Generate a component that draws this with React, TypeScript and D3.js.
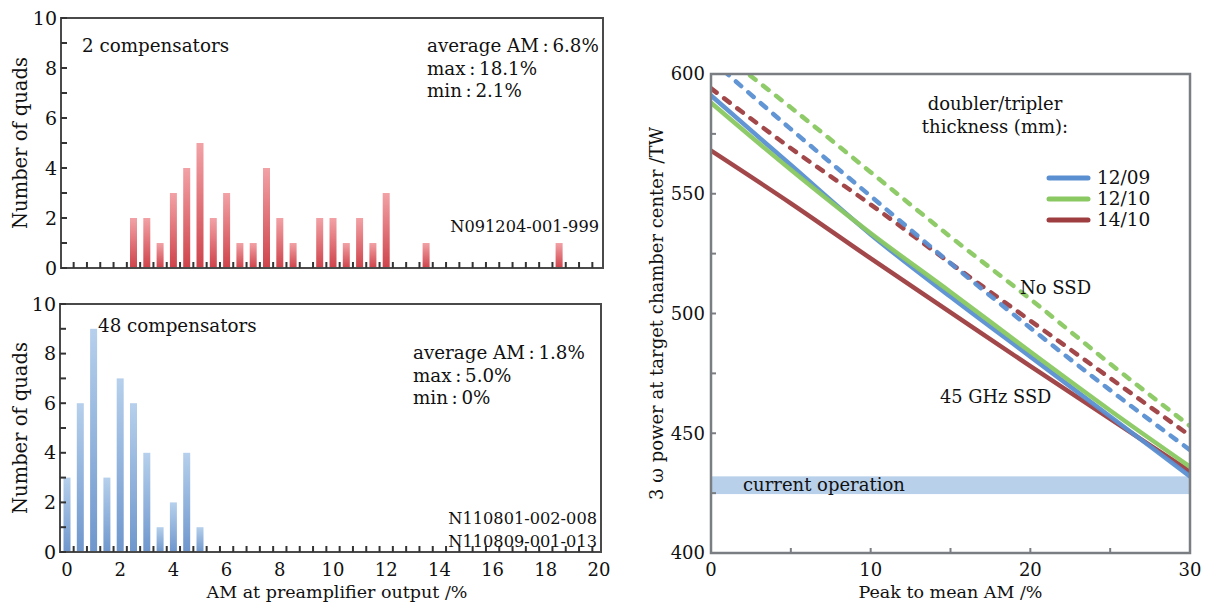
import React from "react";
import * as d3 from "d3";

// ---------- data ----------
const topBins = [2.5, 3, 3.5, 4, 4.5, 5, 5.5, 6, 6.5, 7, 7.5, 8, 8.5, 9.5, 10, 10.5, 11, 11.5, 12, 13.5, 18.5];
const topCounts = [2, 2, 1, 3, 4, 5, 2, 3, 1, 1, 4, 2, 1, 2, 2, 1, 2, 1, 3, 1, 1];
const bottomBins = [0, 0.5, 1, 1.5, 2, 2.5, 3, 3.5, 4, 4.5, 5];
const bottomCounts = [3, 6, 9, 3, 7, 6, 4, 1, 2, 4, 1];
const histXTicks = [0, 2, 4, 6, 8, 10, 12, 14, 16, 18, 20];
const histYTicks = [0, 2, 4, 6, 8, 10];
const topStats = ["average AM\u2009:\u20096.8%", "max\u2009:\u200918.1%", "min\u2009:\u20092.1%"];
const bottomStats = ["average AM\u2009:\u20091.8%", "max\u2009:\u20095.0%", "min\u2009:\u20090%"];
const topShots = ["N091204-001-999"];
const bottomShots = ["N110801-002-008", "N110809-001-013"];

const amX = [0, 5, 10, 15, 20, 25, 30];
const blueSolid = [591, 562, 533, 507, 482, 457, 432];
const greenSolid = [588, 560, 533.5, 509, 484, 459.5, 436];
const redSolid = [568, 546, 523, 500.5, 478, 456, 434];
const blueDashed = [606, 577, 549, 521, 494, 468, 443];
const redDashed = [594, 569, 545.5, 521, 497, 473, 449];
const greenDashed = [612, 586, 559, 532, 506, 479, 453];
const currentOp = [424.6, 432];
const rightXTicks = [0, 10, 20, 30];
const rightYTicks = [400, 450, 500, 550, 600];
const legendItems = ["12/09", "12/10", "14/10"];

const BLUE = "#5a8fd2";
const GREEN = "#8ac862";
const RED = "#9e3e40";
const FONT = "'DejaVu Serif', serif";

function Histogram({ bins, counts, top, bottom, left, right, grad, label, labelX, labelY, stats, statsX, statsY, shots, shotsY, showXLabels }: any) {
  const x = d3.scaleLinear().domain([0, 20]).range([67, 599]);
  const y = d3.scaleLinear().domain([0, 10]).range([bottom, top]);
  const minor = d3.range(0.25, 20, 0.5);
  const yMinor = d3.range(0, 11, 1);
  const bw = 7;
  return (
    <g>
      {bins.map((b: number, i: number) => (
        <rect key={i} x={x(b) - bw / 2} y={y(counts[i])} width={bw} height={y(0) - y(counts[i])} fill={`url(#${grad})`} />
      ))}
      <rect x={left} y={top} width={right - left} height={bottom - top} fill="none" stroke="#4a4a4a" strokeWidth={2} />
      {minor.map((t, i) => (
        <line key={i} x1={x(t)} x2={x(t)} y1={bottom} y2={bottom - 6} stroke="#333" strokeWidth={2} />
      ))}
      {yMinor.map((t, i) => (
        <line key={i} x1={left} x2={left + 6} y1={y(t)} y2={y(t)} stroke="#333" strokeWidth={2} />
      ))}
      {histYTicks.map((t, i) => (
        <text key={i} x={left - 4} y={y(t)} dy="0.35em" textAnchor="end" fontSize={19} fontFamily={FONT} fill="#111">{t}</text>
      ))}
      {showXLabels && histXTicks.map((t, i) => (
        <text key={i} x={x(t)} y={bottom + 18} dy="0.35em" textAnchor="middle" fontSize={18} fontFamily={FONT} fill="#111">{t}</text>
      ))}
      <text x={labelX} y={labelY} dy="0.35em" fontSize={18.3} fontFamily={FONT} fill="#111">{label}</text>
      {stats.map((s: string, i: number) => (
        <text key={i} x={statsX} y={statsY + i * 22.5} dy="0.35em" fontSize={18.3} fontFamily={FONT} fill="#111">{s}</text>
      ))}
      {shots.map((s: string, i: number) => (
        <text key={i} x={right - 4} y={shotsY + i * 23} dy="0.35em" textAnchor="end" fontSize={16.2} fontFamily={FONT} fill="#111">{s}</text>
      ))}
      <text transform={`translate(20,${(top + bottom) / 2}) rotate(-90)`} dy="0.35em" textAnchor="middle" fontSize={19.5} fontFamily={FONT} fill="#111">Number of quads</text>
    </g>
  );
}

function RightChart() {
  const L = 711, R = 1190, T = 74, B = 553;
  const x = d3.scaleLinear().domain([0, 30]).range([L, R]);
  const y = d3.scaleLinear().domain([400, 600]).range([B, T]);
  const line = d3.line<number>().x((_, i) => x(amX[i])).y((v) => y(v)).curve(d3.curveMonotoneX);
  const series = [
    { v: greenDashed, c: GREEN, dash: true },
    { v: redDashed, c: RED, dash: true },
    { v: blueDashed, c: BLUE, dash: true },
    { v: redSolid, c: RED, dash: false },
    { v: blueSolid, c: BLUE, dash: false },
    { v: greenSolid, c: GREEN, dash: false },
  ];
  const legendColors = [BLUE, GREEN, RED];
  return (
    <g>
      <defs>
        <clipPath id="plotclip">
          <rect x={L} y={T} width={R - L} height={B - T} />
        </clipPath>
      </defs>
      <rect x={x(0)} y={y(currentOp[1])} width={x(30) - x(0)} height={y(currentOp[0]) - y(currentOp[1])} fill="#b8d0ea" />
      <text x={743} y={485} dy="0.35em" fontSize={18} fontFamily={FONT} fill="#111">current operation</text>
      <g clipPath="url(#plotclip)">
        {series.map((s, i) => (
          <path key={i} d={line(s.v) as string} fill="none" stroke={s.c} strokeWidth={4.5} strokeLinecap="round"
            strokeDasharray={s.dash ? "7 9.5" : undefined} opacity={0.95} />
        ))}
      </g>
      <rect x={L} y={T} width={R - L} height={B - T} fill="none" stroke="#7a7d82" strokeWidth={2.5} />
      {d3.range(400, 601, 25).map((t, i) => (
        <line key={i} x1={L} x2={L + 5} y1={y(t)} y2={y(t)} stroke="#7a7d82" strokeWidth={2} />
      ))}
      {d3.range(0, 31, 5).map((t, i) => (
        <line key={i} x1={x(t)} x2={x(t)} y1={B} y2={B - 5} stroke="#7a7d82" strokeWidth={2} />
      ))}
      {rightYTicks.map((t, i) => (
        <text key={i} x={L - 6} y={y(t)} dy="0.35em" textAnchor="end" fontSize={18} fontFamily={FONT} fill="#111">{t}</text>
      ))}
      {rightXTicks.map((t, i) => (
        <text key={i} x={x(t)} y={B + 17} dy="0.35em" textAnchor="middle" fontSize={18} fontFamily={FONT} fill="#111">{t}</text>
      ))}
      <text x={(L + R) / 2} y={592} dy="0.35em" textAnchor="middle" fontSize={17.5} fontFamily={FONT} fill="#111">Peak to mean AM /%</text>
      <text transform={`translate(657,${(T + B) / 2}) rotate(-90)`} dy="0.35em" textAnchor="middle" fontSize={18} fontFamily={FONT} fill="#111">3 ω power at target chamber center /TW</text>
      <text x={995} y={104} dy="0.35em" textAnchor="middle" fontSize={18} fontFamily={FONT} fill="#111">doubler/tripler</text>
      <text x={995} y={127} dy="0.35em" textAnchor="middle" fontSize={18} fontFamily={FONT} fill="#111">thickness (mm):</text>
      {legendItems.map((s, i) => (
        <g key={i}>
          <line x1={1049} x2={1088} y1={178 + i * 21} y2={178 + i * 21} stroke={legendColors[i]} strokeWidth={5} strokeLinecap="round" />
          <text x={1097} y={178 + i * 21} dy="0.35em" fontSize={18.5} fontFamily={FONT} fill="#111">{s}</text>
        </g>
      ))}
      <text x={1020} y={288} dy="0.35em" fontSize={18} fontFamily={FONT} fill="#111">No SSD</text>
      <text x={940} y={397} dy="0.35em" fontSize={17.8} fontFamily={FONT} fill="#111">45 GHz SSD</text>
    </g>
  );
}

export default function App() {
  return (
    <svg width={1213} height={603} style={{ position: "absolute", left: 0, top: 0, background: "#fff" }}>
      <defs>
        <linearGradient id="redGrad" x1="0" y1="0" x2="0" y2="1">
          <stop offset="0" stopColor="#f2a2a6" />
          <stop offset="1" stopColor="#cf434b" />
        </linearGradient>
        <linearGradient id="blueGrad" x1="0" y1="0" x2="0" y2="1">
          <stop offset="0" stopColor="#b6d0ec" />
          <stop offset="1" stopColor="#6f97cd" />
        </linearGradient>
      </defs>
      <rect width={1213} height={603} fill="#fff" />
      <Histogram bins={topBins} counts={topCounts} top={18} bottom={268} left={61} right={603} grad="redGrad"
        label="2 compensators" labelX={82} labelY={46} stats={topStats} statsX={427} statsY={46}
        shots={topShots} shotsY={226} showXLabels={false} />
      <Histogram bins={bottomBins} counts={bottomCounts} top={304} bottom={552} left={60} right={601} grad="blueGrad"
        label="48 compensators" labelX={98} labelY={326} stats={bottomStats} statsX={413} statsY={353}
        shots={bottomShots} shotsY={518} showXLabels={true} />
      <text x={337} y={592} dy="0.35em" textAnchor="middle" fontSize={17.5} fontFamily={FONT} fill="#111">AM at preamplifier output /%</text>
      <RightChart />
    </svg>
  );
}
